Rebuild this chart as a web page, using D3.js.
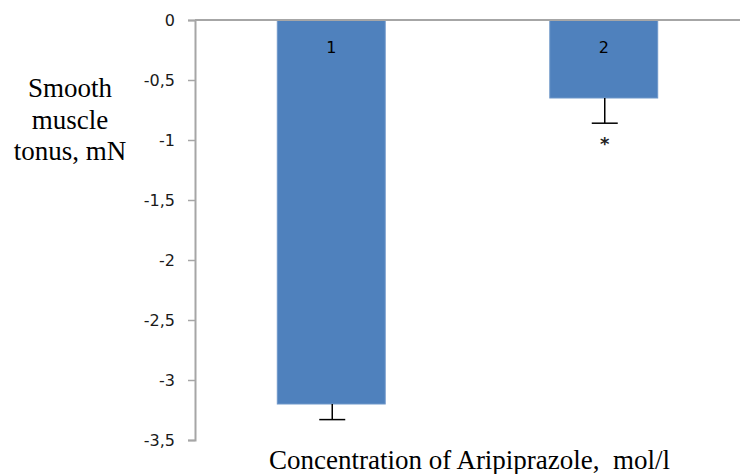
<!DOCTYPE html>
<html>
<head>
<meta charset="utf-8">
<script src="https://cdn.jsdelivr.net/npm/d3@7"></script>
<style>
  html, body { margin: 0; padding: 0; background: #fff; }
  svg { display: block; }
</style>
</head>
<body>
<svg id="chart" width="740" height="474"></svg>
<script>
const categories = ["1", "2"];
const values = [-3.2, -0.65];
const errors = [0.13, 0.21];
const significance = ["", "*"];
const yTicks = [0, -0.5, -1, -1.5, -2, -2.5, -3, -3.5];
const yTitleLines = ["Smooth", "muscle", "tonus, mN"];
const xTitle = "Concentration of Aripiprazole,\u00a0 mol/l";

(function () {
const SERIF = "Liberation Serif";
const SANS = "DejaVu Sans";
const svg = d3.select("#chart");
const mLeft = 195, mRight = 740, mTop = 20, mBottom = 440;

const y = d3.scaleLinear().domain([0, -3.5]).range([mTop, mBottom]);
const x = d3.scaleBand().domain(categories).range([mLeft, mRight])
  .paddingInner(0.604).paddingOuter(0.302);

// bars
svg.append("g").selectAll("rect").data(values).join("rect")
  .attr("x", (d, i) => x(categories[i]))
  .attr("y", y(0))
  .attr("width", x.bandwidth())
  .attr("height", d => y(d) - y(0))
  .attr("fill", "#4f81bd")
  .attr("stroke", "#6f97c9")
  .attr("stroke-width", 1);

// error bars
const eg = svg.append("g").attr("stroke", "#000").attr("stroke-width", 1.5);
values.forEach((v, i) => {
  const cx = x(categories[i]) + x.bandwidth() / 2 + 1;
  eg.append("line").attr("x1", cx).attr("x2", cx)
    .attr("y1", y(v)).attr("y2", y(v - errors[i]));
  eg.append("line").attr("x1", cx - 13).attr("x2", cx + 13)
    .attr("y1", y(v - errors[i])).attr("y2", y(v - errors[i]));
});

// y axis
const axis = d3.axisLeft(y).tickValues(yTicks).tickSize(7).tickPadding(13)
  .tickFormat(d => d === 0 ? "0" : String(d).replace(".", ","));
const ag = svg.append("g").attr("transform", `translate(${mLeft},0)`).call(axis);
ag.select(".domain").attr("stroke", "#a6a6a6").attr("stroke-width", 2);
ag.selectAll(".tick line").attr("stroke", "#a6a6a6").attr("stroke-width", 1.5);
ag.selectAll(".tick text")
  .style("font-family", SANS).style("font-size", "16px").attr("fill", "#1a1a1a");

// zero line
svg.append("line").attr("x1", mLeft).attr("x2", mRight)
  .attr("y1", y(0)).attr("y2", y(0))
  .attr("stroke", "#a6a6a6").attr("stroke-width", 2);

// bar labels
svg.append("g").selectAll("text").data(categories).join("text")
  .attr("x", d => x(d) + x.bandwidth() / 2)
  .attr("y", y(0) + 33)
  .attr("text-anchor", "middle")
  .style("font-family", SANS).style("font-size", "16px")
  .attr("fill", "#000")
  .text(d => d);

// significance markers
svg.append("g").selectAll("text").data(significance).join("text")
  .attr("x", (d, i) => x(categories[i]) + x.bandwidth() / 2 + 1)
  .attr("y", (d, i) => y(values[i] - errors[i]) + 27)
  .attr("text-anchor", "middle")
  .style("font-family", SANS).style("font-size", "18px").style("font-weight", "bold")
  .attr("fill", "#222")
  .text(d => d);

// y title
const yt = svg.append("text")
  .style("font-family", SERIF).style("font-size", "27px")
  .attr("fill", "#000").attr("text-anchor", "middle");
yTitleLines.forEach((l, i) => {
  yt.append("tspan").attr("x", 70).attr("y", 97 + i * 31.5).text(l);
});

// x title
svg.append("text")
  .attr("x", (mLeft + mRight) / 2 + 2).attr("y", 469)
  .attr("text-anchor", "middle")
  .style("font-family", SERIF).style("font-size", "27px")
  .attr("fill", "#000")
  .text(xTitle);
})();
</script>
</body>
</html>
